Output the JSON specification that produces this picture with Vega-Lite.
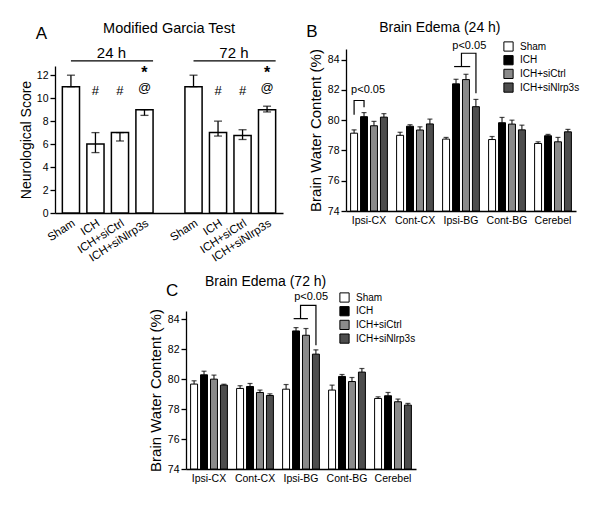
{
  "$schema": "https://vega.github.io/schema/vega-lite/v6.json",
  "padding": {"left": 19, "top": 20, "right": 5, "bottom": 5},
  "background": "white",
  "config": {
    "font": "Liberation Sans",
    "view": {"stroke": null},
    "axis": {"grid": false, "domainColor": "black", "tickColor": "black", "labelColor": "black", "titleColor": "black", "labelFontSize": 10.5, "titleFontSize": 15, "titleFontWeight": "normal", "domainWidth": 1.3, "tickWidth": 1.3, "tickSize": 5, "labelPadding": 2, "labelOverlap": false},
    "legend": {"labelFontSize": 10, "labelColor": "black"}
  },
  "resolve": {"scale": {"fill": "independent"}, "legend": {"fill": "independent"}},
  "datasets": {
    "garcia": [
      {"k": "24|Sham", "v": 11, "lo": 11, "hi": 12},
      {"k": "24|ICH", "v": 6, "lo": 5.26, "hi": 7},
      {"k": "24|ICH+siCtrl", "v": 7, "lo": 6.27, "hi": 7},
      {"k": "24|ICH+siNlrp3s", "v": 9, "lo": 8.5, "hi": 9},
      {"k": "72|Sham", "v": 11, "lo": 11, "hi": 12},
      {"k": "72|ICH", "v": 7, "lo": 6.7, "hi": 8},
      {"k": "72|ICH+siCtrl", "v": 6.75, "lo": 6.4, "hi": 7.25},
      {"k": "72|ICH+siNlrp3s", "v": 9, "lo": 8.8, "hi": 9.3}
    ],
    "garciaText": [
      {"k": "24|ICH", "v": 10.66, "t": "#", "kind": "mark"},
      {"k": "24|ICH+siCtrl", "v": 10.66, "t": "#", "kind": "mark"},
      {"k": "24|ICH+siNlrp3s", "v": 10.85, "t": "@", "kind": "mark"},
      {"k": "72|ICH", "v": 10.66, "t": "#", "kind": "mark"},
      {"k": "72|ICH+siCtrl", "v": 10.66, "t": "#", "kind": "mark"},
      {"k": "72|ICH+siNlrp3s", "v": 10.85, "t": "@", "kind": "mark"},
      {"k": "24|ICH+siNlrp3s", "v": 12.15, "t": "*", "kind": "star"},
      {"k": "72|ICH+siNlrp3s", "v": 12.15, "t": "*", "kind": "star"},
      {"k": "24|ICH+siCtrl", "v": 13.96, "t": "24 h", "kind": "head"},
      {"k": "72|ICH+siCtrl", "v": 13.96, "t": "72 h", "kind": "head"},
      {"k": "gap", "v": 15.98, "t": "Modified Garcia Test", "kind": "title"},
      {"k": "24|Sham", "v": 15.55, "t": "A", "kind": "letter"}
    ],
    "garciaHeadLines": [
      {"k": "24|Sham", "k2": "24|ICH+siNlrp3s", "v": 13.24},
      {"k": "72|Sham", "k2": "72|ICH+siNlrp3s", "v": 13.24}
    ],
    "edema24": [
      {"region": "Ipsi-CX", "group": "Sham", "v": 79.14, "hi": 79.36},
      {"region": "Ipsi-CX", "group": "ICH", "v": 80.23, "hi": 80.5},
      {"region": "Ipsi-CX", "group": "ICH+siCtrl", "v": 79.63, "hi": 79.92},
      {"region": "Ipsi-CX", "group": "ICH+siNlrp3s", "v": 80.2, "hi": 80.43},
      {"region": "Cont-CX", "group": "Sham", "v": 79.0, "hi": 79.2},
      {"region": "Cont-CX", "group": "ICH", "v": 79.6, "hi": 79.7},
      {"region": "Cont-CX", "group": "ICH+siCtrl", "v": 79.35, "hi": 79.56},
      {"region": "Cont-CX", "group": "ICH+siNlrp3s", "v": 79.75, "hi": 80.07},
      {"region": "Ipsi-BG", "group": "Sham", "v": 78.75, "hi": 78.86},
      {"region": "Ipsi-BG", "group": "ICH", "v": 82.4, "hi": 82.7},
      {"region": "Ipsi-BG", "group": "ICH+siCtrl", "v": 82.68, "hi": 83.03},
      {"region": "Ipsi-BG", "group": "ICH+siNlrp3s", "v": 80.89, "hi": 81.37},
      {"region": "Cont-BG", "group": "Sham", "v": 78.72, "hi": 78.92},
      {"region": "Cont-BG", "group": "ICH", "v": 79.83, "hi": 80.18},
      {"region": "Cont-BG", "group": "ICH+siCtrl", "v": 79.74, "hi": 80.0},
      {"region": "Cont-BG", "group": "ICH+siNlrp3s", "v": 79.36, "hi": 79.67},
      {"region": "Cerebel", "group": "Sham", "v": 78.46, "hi": 78.57},
      {"region": "Cerebel", "group": "ICH", "v": 78.97, "hi": 79.06},
      {"region": "Cerebel", "group": "ICH+siCtrl", "v": 78.57, "hi": 78.86},
      {"region": "Cerebel", "group": "ICH+siNlrp3s", "v": 79.23, "hi": 79.39}
    ],
    "edema72": [
      {"region": "Ipsi-CX", "group": "Sham", "v": 79.67, "hi": 79.89},
      {"region": "Ipsi-CX", "group": "ICH", "v": 80.29, "hi": 80.53},
      {"region": "Ipsi-CX", "group": "ICH+siCtrl", "v": 80.0, "hi": 80.27},
      {"region": "Ipsi-CX", "group": "ICH+siNlrp3s", "v": 79.6, "hi": 79.66},
      {"region": "Cont-CX", "group": "Sham", "v": 79.38, "hi": 79.56},
      {"region": "Cont-CX", "group": "ICH", "v": 79.51, "hi": 79.71},
      {"region": "Cont-CX", "group": "ICH+siCtrl", "v": 79.11, "hi": 79.27},
      {"region": "Cont-CX", "group": "ICH+siNlrp3s", "v": 78.91, "hi": 79.02},
      {"region": "Ipsi-BG", "group": "Sham", "v": 79.33, "hi": 79.64},
      {"region": "Ipsi-BG", "group": "ICH", "v": 83.22, "hi": 83.44},
      {"region": "Ipsi-BG", "group": "ICH+siCtrl", "v": 82.93, "hi": 83.38},
      {"region": "Ipsi-BG", "group": "ICH+siNlrp3s", "v": 81.67, "hi": 81.96},
      {"region": "Cont-BG", "group": "Sham", "v": 79.27, "hi": 79.6},
      {"region": "Cont-BG", "group": "ICH", "v": 80.18, "hi": 80.31},
      {"region": "Cont-BG", "group": "ICH+siCtrl", "v": 79.84, "hi": 80.11},
      {"region": "Cont-BG", "group": "ICH+siNlrp3s", "v": 80.47, "hi": 80.71},
      {"region": "Cerebel", "group": "Sham", "v": 78.71, "hi": 78.82},
      {"region": "Cerebel", "group": "ICH", "v": 78.89, "hi": 79.11},
      {"region": "Cerebel", "group": "ICH+siCtrl", "v": 78.49, "hi": 78.67},
      {"region": "Cerebel", "group": "ICH+siNlrp3s", "v": 78.27, "hi": 78.38}
    ],
    "br24": [
      {"id": "a", "o": 1, "u": 0.176, "v": 80.35},
      {"id": "a", "o": 2, "u": 0.176, "v": 81.3},
      {"id": "a", "o": 3, "u": 0.392, "v": 81.3},
      {"id": "a", "o": 4, "u": 0.392, "v": 80.85},
      {"id": "b", "o": 1, "u": 2.35, "v": 83.54},
      {"id": "b", "o": 2, "u": 2.70, "v": 83.54},
      {"id": "c", "o": 1, "u": 2.51, "v": 83.54},
      {"id": "c", "o": 2, "u": 2.51, "v": 84.42},
      {"id": "c", "o": 3, "u": 2.825, "v": 84.42},
      {"id": "c", "o": 4, "u": 2.825, "v": 81.77}
    ],
    "txt24": [
      {"u": 0.48, "v": 82.0, "t": "p<0.05", "kind": "p"},
      {"u": 2.68, "v": 84.87, "t": "p<0.05", "kind": "p"},
      {"u": 2.04, "v": 86.12, "t": "Brain Edema (24 h)", "kind": "title"},
      {"u": -0.74, "v": 85.79, "t": "B", "kind": "letter"}
    ],
    "br72": [
      {"id": "d", "o": 1, "u": 2.34, "v": 84.04},
      {"id": "d", "o": 2, "u": 2.65, "v": 84.04},
      {"id": "e", "o": 1, "u": 2.49, "v": 84.04},
      {"id": "e", "o": 2, "u": 2.49, "v": 84.93},
      {"id": "e", "o": 3, "u": 2.825, "v": 84.93},
      {"id": "e", "o": 4, "u": 2.825, "v": 82.27}
    ],
    "txt72": [
      {"u": 2.72, "v": 85.47, "t": "p<0.05", "kind": "p"},
      {"u": 1.73, "v": 86.5, "t": "Brain Edema (72 h)", "kind": "title"},
      {"u": -0.30, "v": 85.87, "t": "C", "kind": "letter"}
    ]
  },
  "spacing": 10,
  "vconcat": [
    {
      "spacing": 23,
      "resolve": {"scale": {"fill": "independent"}, "legend": {"fill": "independent"}},
      "hconcat": [
        {
          "width": 228,
          "height": 164,
          "encoding": {
            "x": {"field": "k", "type": "nominal", "title": null,
              "scale": {"domain": ["24|Sham", "24|ICH", "24|ICH+siCtrl", "24|ICH+siNlrp3s", "gap", "72|Sham", "72|ICH", "72|ICH+siCtrl", "72|ICH+siNlrp3s"], "paddingInner": 0.3, "paddingOuter": 0.3},
              "axis": {"labelExpr": "indexof(datum.value, '|') >= 0 ? split(datum.value, '|')[1] : ''", "labelAngle": -33, "ticks": false, "labelFontSize": 11.5, "labelPadding": 4}},
            "y": {"field": "v", "type": "quantitative",
              "scale": {"domain": [0, 12.8], "range": [164, 17], "nice": false},
              "axis": {"values": [0, 2, 4, 6, 8, 10, 12], "labelOverlap": false, "labelBound": false, "title": "Neurological Score", "titleFontSize": 14, "titlePadding": 3}}
          },
          "layer": [
            {
              "data": {"name": "garcia"},
              "mark": {"type": "bar", "fill": "white", "stroke": "black", "strokeWidth": 1.5}
            },
            {
              "data": {"name": "garcia"},
              "mark": {"type": "rule", "strokeWidth": 1.3, "color": "black"},
              "encoding": {"y": {"field": "lo", "type": "quantitative", "axis": {"values": [0, 2, 4, 6, 8, 10, 12], "labelOverlap": false, "labelBound": false, "title": "Neurological Score", "titleFontSize": 14, "titlePadding": 3}}, "y2": {"field": "hi"}}
            },
            {
              "data": {"name": "garcia"},
              "mark": {"type": "tick", "size": 8, "thickness": 1.3, "color": "black"},
              "encoding": {"y": {"field": "hi", "type": "quantitative", "axis": {"values": [0, 2, 4, 6, 8, 10, 12], "labelOverlap": false, "labelBound": false, "title": "Neurological Score", "titleFontSize": 14, "titlePadding": 3}}}
            },
            {
              "data": {"name": "garcia"},
              "mark": {"type": "tick", "size": 8, "thickness": 1.3, "color": "black"},
              "encoding": {"y": {"field": "lo", "type": "quantitative", "axis": {"values": [0, 2, 4, 6, 8, 10, 12], "labelOverlap": false, "labelBound": false, "title": "Neurological Score", "titleFontSize": 14, "titlePadding": 3}}}
            },
            {
              "data": {"name": "garciaText"},
              "transform": [{"filter": "datum.kind == 'mark'"}],
              "mark": {"type": "text", "fontSize": 13, "color": "black", "baseline": "middle"},
              "encoding": {"text": {"field": "t"}}
            },
            {
              "data": {"name": "garciaText"},
              "transform": [{"filter": "datum.kind == 'star'"}],
              "mark": {"type": "text", "fontSize": 16, "fontWeight": "bold", "color": "black", "baseline": "middle"},
              "encoding": {"text": {"field": "t"}}
            },
            {
              "data": {"name": "garciaHeadLines"},
              "mark": {"type": "rule", "strokeWidth": 1.3, "color": "black"},
              "encoding": {"x2": {"field": "k2", "bandPosition": 1}}
            },
            {
              "data": {"name": "garciaText"},
              "transform": [{"filter": "datum.kind == 'head'"}],
              "mark": {"type": "text", "fontSize": 15, "color": "black", "baseline": "middle"},
              "encoding": {"x": {"field": "k", "type": "nominal", "bandPosition": 0}, "text": {"field": "t"}}
            },
            {
              "data": {"name": "garciaText"},
              "transform": [{"filter": "datum.kind == 'title'"}],
              "mark": {"type": "text", "fontSize": 14.5, "color": "black", "baseline": "middle"},
              "encoding": {"text": {"field": "t"}}
            },
            {
              "data": {"name": "garciaText"},
              "transform": [{"filter": "datum.kind == 'letter'"}],
              "mark": {"type": "text", "fontSize": 17, "color": "black", "baseline": "middle", "dx": -21},
              "encoding": {"x": {"field": "k", "type": "nominal", "bandPosition": 0}, "text": {"field": "t"}}
            }
          ]
        },
        {
          "width": 230,
          "height": 162,
          "resolve": {"scale": {"x": "independent"}},
          "encoding": {
            "y": {"field": "v", "type": "quantitative", "scale": {"domain": [74, 84.7], "nice": false, "zero": false},
              "axis": {"values": [74, 76, 78, 80, 82, 84], "labelOverlap": false, "labelBound": false, "title": "Brain Water Content (%)", "titlePadding": 4}}
          },
          "layer": [
            {
              "data": {"name": "edema24"},
              "encoding": {
                "x": {"field": "region", "type": "nominal", "title": null,
                  "scale": {"domain": ["Ipsi-CX", "Cont-CX", "Ipsi-BG", "Cont-BG", "Cerebel"], "paddingInner": 0.2, "paddingOuter": 0.1},
                  "axis": {"labelAngle": 0, "ticks": false, "labelFontSize": 10.5, "labelPadding": 4}},
                "xOffset": {"field": "group", "type": "nominal", "scale": {"domain": ["Sham", "ICH", "ICH+siCtrl", "ICH+siNlrp3s"], "paddingInner": 0.3, "paddingOuter": 0}}
              },
              "layer": [
                {
                  "mark": {"type": "bar", "stroke": "black", "strokeWidth": 1},
                  "encoding": {
                    "y2": {"datum": 74},
                    "fill": {"field": "group", "type": "nominal",
                      "scale": {"domain": ["Sham", "ICH", "ICH+siCtrl", "ICH+siNlrp3s"], "range": ["white", "black", "#8a8a8a", "#4d4d4d"]},
                      "legend": {"orient": "none", "legendX": 157, "legendY": -8, "title": null, "symbolType": "square", "symbolSize": 85, "symbolStrokeColor": "black", "symbolStrokeWidth": 1, "rowPadding": -1.3, "labelOffset": 6}}
                  }
                },
                {
                  "mark": {"type": "rule", "strokeWidth": 1, "color": "black"},
                  "encoding": {"y2": {"field": "hi"}}
                },
                {
                  "mark": {"type": "tick", "size": 5, "thickness": 1.2, "color": "black"},
                  "encoding": {"y": {"field": "hi", "type": "quantitative", "axis": {"values": [74, 76, 78, 80, 82, 84], "labelOverlap": false, "labelBound": false, "title": "Brain Water Content (%)", "titlePadding": 4}}}
                }
              ]
            },
            {
              "encoding": {
                "x": {"field": "u", "type": "quantitative", "scale": {"domain": [0, 5], "nice": false, "zero": false}, "axis": null}
              },
              "layer": [
                {
                  "data": {"name": "br24"},
                  "mark": {"type": "line", "color": "black", "strokeWidth": 1.2},
                  "encoding": {"detail": {"field": "id"}, "order": {"field": "o"}}
                },
                {
                  "data": {"name": "txt24"},
                  "transform": [{"filter": "datum.kind == 'p'"}],
                  "mark": {"type": "text", "fontSize": 11, "color": "black", "baseline": "middle"},
                  "encoding": {"text": {"field": "t"}}
                },
                {
                  "data": {"name": "txt24"},
                  "transform": [{"filter": "datum.kind == 'title'"}],
                  "mark": {"type": "text", "fontSize": 14, "color": "black", "baseline": "middle"},
                  "encoding": {"text": {"field": "t"}}
                },
                {
                  "data": {"name": "txt24"},
                  "transform": [{"filter": "datum.kind == 'letter'"}],
                  "mark": {"type": "text", "fontSize": 17, "color": "black", "baseline": "middle"},
                  "encoding": {"text": {"field": "t"}}
                }
              ]
            }
          ]
        }
      ]
    },
    {
      "spacing": 0,
      "resolve": {"scale": {"fill": "independent"}, "legend": {"fill": "independent"}},
      "hconcat": [
        {
          "width": 93,
          "height": 1,
          "data": {"values": [{}]},
          "mark": {"type": "point", "opacity": 0},
          "encoding": {}
        },
        {
          "width": 230,
          "height": 158,
          "resolve": {"scale": {"x": "independent"}},
          "encoding": {
            "y": {"field": "v", "type": "quantitative", "scale": {"domain": [74, 84.55], "nice": false, "zero": false},
              "axis": {"values": [74, 76, 78, 80, 82, 84], "labelOverlap": false, "labelBound": false, "title": "Brain Water Content (%)", "titlePadding": 4}}
          },
          "layer": [
            {
              "data": {"name": "edema72"},
              "encoding": {
                "x": {"field": "region", "type": "nominal", "title": null,
                  "scale": {"domain": ["Ipsi-CX", "Cont-CX", "Ipsi-BG", "Cont-BG", "Cerebel"], "paddingInner": 0.2, "paddingOuter": 0.1},
                  "axis": {"labelAngle": 0, "ticks": false, "labelFontSize": 10.5, "labelPadding": 4}},
                "xOffset": {"field": "group", "type": "nominal", "scale": {"domain": ["Sham", "ICH", "ICH+siCtrl", "ICH+siNlrp3s"], "paddingInner": 0.3, "paddingOuter": 0}}
              },
              "layer": [
                {
                  "mark": {"type": "bar", "stroke": "black", "strokeWidth": 1},
                  "encoding": {
                    "y2": {"datum": 74},
                    "fill": {"field": "group", "type": "nominal",
                      "scale": {"domain": ["Sham", "ICH", "ICH+siCtrl", "ICH+siNlrp3s"], "range": ["white", "black", "#8a8a8a", "#4d4d4d"]},
                      "legend": {"orient": "none", "legendX": 153, "legendY": -19, "title": null, "symbolType": "square", "symbolSize": 85, "symbolStrokeColor": "black", "symbolStrokeWidth": 1, "rowPadding": -1.3, "labelOffset": 6}}
                  }
                },
                {
                  "mark": {"type": "rule", "strokeWidth": 1, "color": "black"},
                  "encoding": {"y2": {"field": "hi"}}
                },
                {
                  "mark": {"type": "tick", "size": 5, "thickness": 1.2, "color": "black"},
                  "encoding": {"y": {"field": "hi", "type": "quantitative", "axis": {"values": [74, 76, 78, 80, 82, 84], "labelOverlap": false, "labelBound": false, "title": "Brain Water Content (%)", "titlePadding": 4}}}
                }
              ]
            },
            {
              "encoding": {
                "x": {"field": "u", "type": "quantitative", "scale": {"domain": [0, 5], "nice": false, "zero": false}, "axis": null}
              },
              "layer": [
                {
                  "data": {"name": "br72"},
                  "mark": {"type": "line", "color": "black", "strokeWidth": 1.2},
                  "encoding": {"detail": {"field": "id"}, "order": {"field": "o"}}
                },
                {
                  "data": {"name": "txt72"},
                  "transform": [{"filter": "datum.kind == 'p'"}],
                  "mark": {"type": "text", "fontSize": 11, "color": "black", "baseline": "middle"},
                  "encoding": {"text": {"field": "t"}}
                },
                {
                  "data": {"name": "txt72"},
                  "transform": [{"filter": "datum.kind == 'title'"}],
                  "mark": {"type": "text", "fontSize": 14, "color": "black", "baseline": "middle"},
                  "encoding": {"text": {"field": "t"}}
                },
                {
                  "data": {"name": "txt72"},
                  "transform": [{"filter": "datum.kind == 'letter'"}],
                  "mark": {"type": "text", "fontSize": 17, "color": "black", "baseline": "middle"},
                  "encoding": {"text": {"field": "t"}}
                }
              ]
            }
          ]
        }
      ]
    }
  ]
}
